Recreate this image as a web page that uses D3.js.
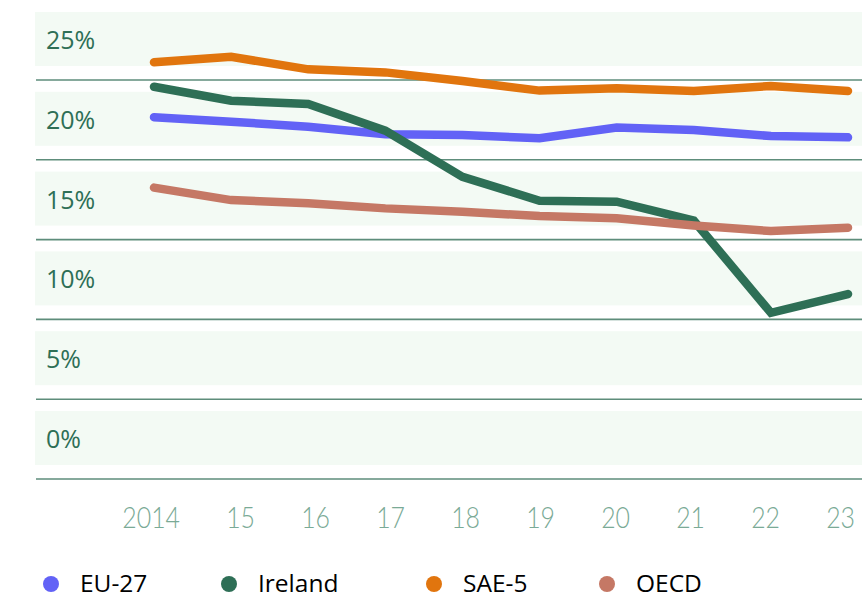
<!DOCTYPE html>
<html><head><meta charset="utf-8">
<script src="https://cdn.jsdelivr.net/npm/d3@7"></script>
<style>html,body{margin:0;padding:0;background:#fff;}svg{display:block;}</style>
</head><body>
<svg id="c" width="862" height="599"></svg>
<script>
const years = ["2014","15","16","17","18","19","20","21","22","23"];
const yTicks = [0,5,10,15,20,25];
const seriesNames = ["EU-27","Ireland","SAE-5","OECD"];
const seriesColors = ["#6262f6","#2e6f56","#e1750e","#c57865"];
const eu27 = [20.16,19.88,19.57,19.09,19.05,18.84,19.51,19.36,18.98,18.9];
const ireland = [22.07,21.2,20.99,19.32,16.43,14.93,14.87,13.68,7.91,9.08];
const sae5 = [23.6,23.95,23.16,22.97,22.43,21.83,21.97,21.8,22.12,21.8];
const oecd = [15.75,14.97,14.77,14.45,14.24,13.97,13.83,13.38,13.03,13.24];
const seriesValues = [eu27, ireland, sae5, oecd];

const svg = d3.select("#c");
const y = d3.scaleLinear().domain([0,25]).range([439,40]);
const x = d3.scalePoint().domain(years).range([154,848]);
const xLab = d3.scalePoint().domain(years).range([180,855]);

svg.append("g").selectAll("rect").data(yTicks).join("rect")
  .attr("x",35).attr("width",827)
  .attr("y",d=>y(d)-28).attr("height",54)
  .attr("fill","#f3faf4");
svg.append("g").selectAll("line").data(yTicks).join("line")
  .attr("x1",36).attr("x2",862)
  .attr("y1",d=>y(d)+40).attr("y2",d=>y(d)+40)
  .attr("stroke","#5e8d7b").attr("stroke-width",1.6);
svg.append("g").selectAll("text").data(yTicks).join("text")
  .attr("x",46).attr("y",d=>y(d)+9)
  .attr("font-family","'Open Sans', 'Noto Sans', sans-serif")
  .attr("font-size",25).attr("fill","#2e6f56")
  .text(d=>d+"%");
svg.append("g").selectAll("text").data(years).join("text")
  .attr("transform",d=>`translate(${xLab(d)},528) scale(0.83,1)`)
  .attr("text-anchor","end")
  .attr("font-family","'Lato Light', Lato, Roboto, sans-serif").attr("font-weight",300)
  .attr("font-size",30).attr("fill","#7aaa96")
  .text(d=>d);
const line = d3.line().x((d,i)=>x(years[i])).y(d=>y(d));
svg.append("g").selectAll("path").data(seriesValues).join("path")
  .attr("d",d=>line(d)).attr("fill","none")
  .attr("stroke",(d,i)=>seriesColors[i]).attr("stroke-width",8.5)
  .attr("stroke-linecap","round").attr("stroke-linejoin","miter");
const legX = [51,229,434,607];
const lg = svg.append("g").selectAll("g").data(seriesNames).join("g")
  .attr("transform",(d,i)=>`translate(${legX[i]},584)`);
lg.append("circle").attr("r",8).attr("fill",(d,i)=>seriesColors[i]);
lg.append("text").attr("x",29).attr("y",7.5)
  .attr("font-family","'Open Sans', 'Noto Sans', sans-serif")
  .attr("font-size",24.5).attr("fill","#000").text(d=>d);
</script>
</body></html>
